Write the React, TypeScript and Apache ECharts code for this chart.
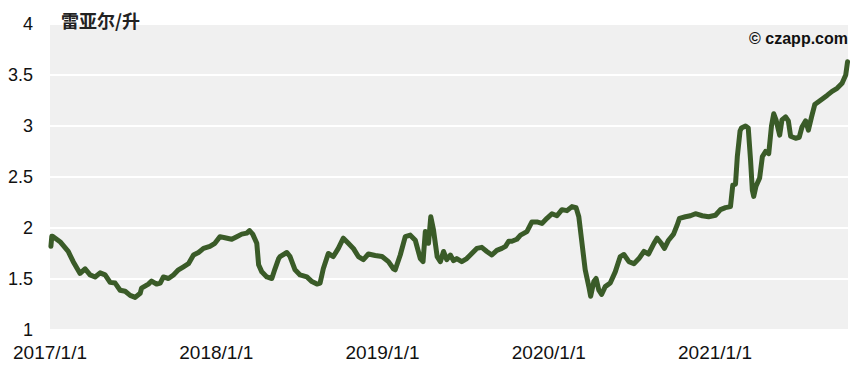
import React, { useEffect, useRef } from "react";
import * as echarts from "echarts";

const dates: string[] = [
  "2017-01-03", "2017-01-05", "2017-01-08", "2017-01-23", "2017-02-10", "2017-02-21", "2017-03-08", "2017-03-19",
  "2017-03-30", "2017-04-10", "2017-04-21", "2017-05-02", "2017-05-13", "2017-05-24", "2017-06-04", "2017-06-15",
  "2017-06-26", "2017-07-07", "2017-07-18", "2017-07-21", "2017-08-05", "2017-08-12", "2017-08-23", "2017-08-31",
  "2017-09-07", "2017-09-18", "2017-09-29", "2017-10-10", "2017-10-21", "2017-11-01", "2017-11-12", "2017-11-23",
  "2017-12-04", "2017-12-18", "2017-12-29",
  "2018-01-09", "2018-01-20", "2018-02-04", "2018-02-15", "2018-02-26", "2018-03-09", "2018-03-15", "2018-03-22",
  "2018-03-31", "2018-04-04", "2018-04-11", "2018-04-22", "2018-05-03", "2018-05-10", "2018-05-18", "2018-05-21",
  "2018-06-05", "2018-06-12", "2018-06-23", "2018-07-04", "2018-07-19", "2018-07-30", "2018-08-10", "2018-08-17",
  "2018-08-24", "2018-09-04", "2018-09-15", "2018-09-26", "2018-10-07", "2018-10-18", "2018-10-29", "2018-11-09",
  "2018-11-20", "2018-12-01", "2018-12-16", "2018-12-31",
  "2019-01-14", "2019-01-25", "2019-01-29", "2019-02-09", "2019-02-20", "2019-03-03", "2019-03-14", "2019-03-25",
  "2019-03-31", "2019-04-05", "2019-04-12", "2019-04-17", "2019-04-23", "2019-05-01", "2019-05-08", "2019-05-15",
  "2019-05-22", "2019-05-30", "2019-06-06", "2019-06-13", "2019-06-24", "2019-07-05", "2019-07-16", "2019-07-27",
  "2019-08-07", "2019-08-18", "2019-08-29", "2019-09-09", "2019-09-20", "2019-09-28", "2019-10-05", "2019-10-12",
  "2019-10-23", "2019-10-31", "2019-11-14", "2019-11-25", "2019-12-06", "2019-12-17", "2019-12-28",
  "2020-01-08", "2020-01-19", "2020-01-30", "2020-02-10", "2020-02-21", "2020-03-01", "2020-03-07", "2020-03-14",
  "2020-03-21", "2020-03-29", "2020-04-02", "2020-04-09", "2020-04-14", "2020-04-20", "2020-04-26", "2020-05-04",
  "2020-05-15", "2020-05-26", "2020-06-06", "2020-06-14", "2020-06-25", "2020-07-06", "2020-07-17", "2020-07-28",
  "2020-08-07", "2020-08-19", "2020-08-26", "2020-09-04", "2020-09-11", "2020-09-20", "2020-10-01", "2020-10-09",
  "2020-10-14", "2020-10-27", "2020-11-07", "2020-11-18", "2020-12-03", "2020-12-17",
  "2021-01-01", "2021-01-12", "2021-01-23", "2021-02-03", "2021-02-08", "2021-02-14", "2021-02-18", "2021-02-24",
  "2021-02-27", "2021-03-08", "2021-03-14", "2021-03-19", "2021-03-23", "2021-03-26", "2021-03-31", "2021-04-08",
  "2021-04-14", "2021-04-21", "2021-04-28", "2021-05-04", "2021-05-09", "2021-05-14", "2021-05-22", "2021-05-27",
  "2021-06-04", "2021-06-10", "2021-06-15", "2021-06-26", "2021-07-04", "2021-07-10", "2021-07-18", "2021-07-24",
  "2021-07-31", "2021-08-07", "2021-08-16", "2021-08-25", "2021-09-03", "2021-09-14", "2021-09-25", "2021-10-06",
  "2021-10-14", "2021-10-18",
];

const prices: number[] = [
  1.82, 1.92, 1.915, 1.866, 1.77, 1.67, 1.555, 1.6,
  1.54, 1.52, 1.56, 1.54, 1.467, 1.46, 1.39, 1.38,
  1.34, 1.32, 1.36, 1.41, 1.45, 1.48, 1.45, 1.46,
  1.52, 1.505, 1.54, 1.59, 1.62, 1.65, 1.735, 1.76,
  1.8, 1.82, 1.85,
  1.915, 1.905, 1.89, 1.915, 1.94, 1.95, 1.975, 1.94,
  1.85, 1.64, 1.57, 1.52, 1.505, 1.6, 1.7, 1.72,
  1.76, 1.72, 1.59, 1.54, 1.52, 1.475, 1.45, 1.46,
  1.6, 1.75, 1.72, 1.8, 1.9, 1.85, 1.8, 1.72,
  1.69, 1.745, 1.73, 1.72,
  1.67, 1.6, 1.59, 1.735, 1.915, 1.93, 1.88, 1.7,
  1.67, 1.965, 1.85, 2.11, 1.98, 1.72, 1.67, 1.77,
  1.69, 1.735, 1.68, 1.7, 1.67, 1.7, 1.75, 1.8,
  1.81, 1.77, 1.735, 1.78, 1.8, 1.82, 1.87, 1.87,
  1.89, 1.93, 1.965, 2.06, 2.06, 2.045, 2.095,
  2.14, 2.12, 2.18, 2.17, 2.21, 2.2, 2.11, 1.85,
  1.59, 1.425, 1.33, 1.475, 1.505, 1.39, 1.35, 1.425,
  1.46, 1.57, 1.72, 1.74, 1.67, 1.65, 1.7, 1.77,
  1.745, 1.85, 1.9, 1.85, 1.8, 1.88, 1.94, 2.03,
  2.095, 2.11, 2.12, 2.14, 2.12, 2.11,
  2.125, 2.18, 2.2, 2.21, 2.42, 2.43, 2.7, 2.95,
  2.98, 3.0, 2.98, 2.67, 2.37, 2.31, 2.41, 2.49,
  2.7, 2.75, 2.73, 3.0, 3.12, 3.06, 2.91, 3.06,
  3.09, 3.05, 2.9, 2.88, 2.89, 2.99, 3.05, 2.96,
  3.09, 3.21, 3.24, 3.27, 3.3, 3.34, 3.37, 3.42,
  3.5, 3.63,
];

const yearLabels: string[] = ["2017/1/1", "2018/1/1", "2019/1/1", "2020/1/1", "2021/1/1"];
const axisStart = "2017-01-01";
const axisEnd = "2021-10-19";
const unitLabel = "雷亚尔/升";
const sourceLabel = "© czapp.com";

const DAY = 86400000;
function dayOffset(s: string): number {
  const [y, m, d] = s.split("-").map(Number);
  const [y0, m0, d0] = axisStart.split("-").map(Number);
  return Math.round((Date.UTC(y, m - 1, d) - Date.UTC(y0, m0 - 1, d0)) / DAY);
}

export default function App() {
  const ref = useRef<HTMLDivElement>(null);

  useEffect(() => {
    if (!ref.current) return;
    const chart = echarts.init(ref.current, undefined, { renderer: "svg" });
    const seriesData = dates.map((d, i) => [dayOffset(d), prices[i]]);
    chart.setOption({
      animation: false,
      backgroundColor: "#ffffff",
      grid: {
        left: 50,
        right: 9,
        top: 24,
        bottom: 38,
        show: true,
        backgroundColor: "#f0f0f0",
        borderWidth: 0,
      },
      xAxis: {
        type: "value",
        min: 0,
        max: dayOffset(axisEnd),
        interval: 365,
        axisLine: { show: false },
        axisTick: { show: false },
        splitLine: { show: false },
        axisLabel: {
          showMaxLabel: false,
          margin: 13,
          fontSize: 19,
          color: "#111",
          fontFamily: "Liberation Sans, Arial, sans-serif",
          formatter: (v: number) => {
            const yrs = v / 365.25;
            const k = Math.round(yrs);
            if (Math.abs(yrs - k) > 0.02 || k < 0 || k >= yearLabels.length) return "";
            return yearLabels[k];
          },
        },
      },
      yAxis: {
        type: "value",
        min: 1,
        max: 4,
        interval: 0.5,
        axisLine: { show: false },
        axisTick: { show: false },
        splitLine: { show: true, lineStyle: { color: "#ffffff", width: 2 } },
        axisLabel: {
          margin: 17,
          fontSize: 18,
          color: "#111",
          fontFamily: "Liberation Sans, Arial, sans-serif",
        },
      },
      graphic: [
        {
          type: "text",
          left: 61,
          top: 11,
          z: 100,
          style: {
            text: unitLabel,
            fontSize: 18,
            fontWeight: "bold",
            fill: "#222",
            fontFamily: "Noto Sans CJK SC, sans-serif",
          },
        },
        {
          type: "text",
          right: 9,
          top: 30,
          z: 100,
          style: {
            text: sourceLabel,
            fontSize: 16,
            fontWeight: "bold",
            fill: "#111",
            fontFamily: "Liberation Sans, Arial, sans-serif",
          },
        },
      ],
      series: [
        {
          type: "line",
          data: seriesData,
          showSymbol: false,
          lineStyle: { color: "#3a5b28", width: 5, join: "round", cap: "round" },
          itemStyle: { color: "#3a5b28" },
        },
      ],
    });
    return () => chart.dispose();
  }, []);

  return <div ref={ref} style={{ width: 857, height: 368, position: "absolute", left: 0, top: 0 }} />;
}
